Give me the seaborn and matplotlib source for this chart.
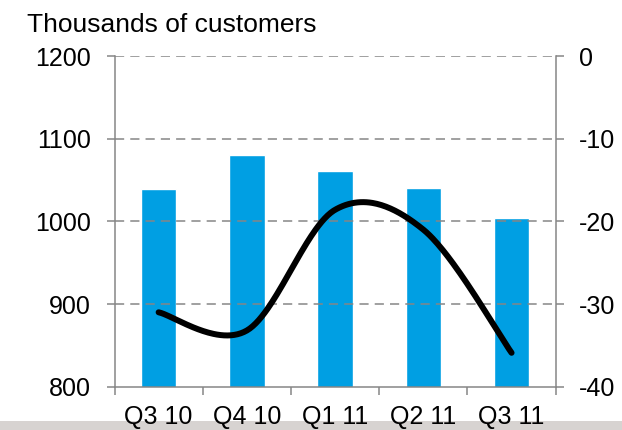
import numpy as np
import pandas as pd
import matplotlib
matplotlib.use("Agg")
import matplotlib.pyplot as plt
from matplotlib.patches import Rectangle
import seaborn as sns

# Data
quarters = ["Q3 10", "Q4 10", "Q1 11", "Q2 11", "Q3 11"]
customers = [1039, 1080, 1061, 1040, 1004]      # bars, left axis (thousands)
net_change = [-31.0, -33.2, -18.6, -21.0, -35.9]  # line, right axis

BLUE = "#009fe3"
GREY = "#868686"


def smooth_curve(ys, n=60):
    # Bezier smoothing through the points (like Excel's "smoothed line")
    p = np.column_stack([np.arange(len(ys), dtype=float), np.asarray(ys, float)])
    p = np.vstack([p[0], p, p[-1]])
    out = []
    t = np.linspace(0, 1, n)[:, None]
    for i in range(1, len(p) - 2):
        p0, p1, p2, p3 = p[i - 1], p[i], p[i + 1], p[i + 2]
        c1 = p1 + (p2 - p0) / 6
        c2 = p2 - (p3 - p1) / 6
        seg = ((1 - t) ** 3) * p1 + 3 * ((1 - t) ** 2) * t * c1 + 3 * (1 - t) * t ** 2 * c2 + t ** 3 * p2
        out.append(seg if i == 1 else seg[1:])
    return np.vstack(out)


sns.set_theme(style="white")
plt.rcParams["font.family"] = ["Liberation Sans", "DejaVu Sans"]
plt.rcParams["axes.unicode_minus"] = False
plt.rcParams["text.color"] = "black"
plt.rcParams["xtick.labelcolor"] = "black"
plt.rcParams["ytick.labelcolor"] = "black"

fig = plt.figure(figsize=(6.22, 4.30), dpi=100)
# grey band along the bottom edge, behind everything
fig.patches.append(Rectangle((0, 0), 1, 9.5 / 430, transform=fig.transFigure,
                             facecolor="#d7d3d1", edgecolor="none", zorder=-5))
ax = fig.add_axes([114.5 / 622, 1 - 386.7 / 430, (555.7 - 114.5) / 622, (386.7 - 56) / 430])
ax.set_facecolor("none")

df = pd.DataFrame({"quarter": quarters, "customers": customers})
sns.barplot(data=df, x="quarter", y="customers", color=BLUE, saturation=1,
            width=0.4, ax=ax, zorder=1)

ax.set_xlim(-0.5, len(quarters) - 0.5)
ax.set_ylim(800, 1200)
ax.set_yticks([800, 900, 1000, 1100, 1200])
ax.set_xlabel("")
ax.set_ylabel("")

# gridlines (dashed), drawn over the bars
for v in [900, 1000, 1100, 1200]:
    ax.axhline(v, color=GREY, lw=1.1, ls=(0, (6, 4)), zorder=3)

# x ticks at category boundaries, labels centred
ax.set_xticks(np.arange(-0.5, len(quarters)), labels=[""] * (len(quarters) + 1))
ax.set_xticks(np.arange(len(quarters)), labels=quarters, minor=True)
ax.tick_params(axis="x", which="major", direction="out", length=6, width=1.1,
               color=GREY, bottom=True)
ax.tick_params(axis="x", which="minor", length=0, pad=13, labelsize=18, bottom=True)
ax.tick_params(axis="y", direction="out", length=6, width=1.1, color=GREY,
               left=True, pad=11, labelsize=18)

for side in ["left", "bottom"]:
    ax.spines[side].set_color(GREY)
    ax.spines[side].set_linewidth(1.1)
ax.spines["top"].set_visible(False)
ax.spines["right"].set_visible(False)

ax2 = ax.twinx()
curve = smooth_curve(net_change)
cdf = pd.DataFrame({"x": curve[:, 0], "y": curve[:, 1]})
sns.lineplot(data=cdf, x="x", y="y", sort=False, color="black", lw=4.3, ax=ax2,
             solid_capstyle="round")
ax2.set_ylim(-40, 0)
ax2.set_yticks([-40, -30, -20, -10, 0])
ax2.set_xlim(-0.5, len(quarters) - 0.5)
ax2.set_xlabel("")
ax2.set_ylabel("")
ax2.tick_params(axis="y", direction="out", length=6, width=1.1, color=GREY,
                right=True, pad=11, labelsize=18)
ax2.spines["right"].set_color(GREY)
ax2.spines["right"].set_linewidth(1.1)
for side in ["top", "left", "bottom"]:
    ax2.spines[side].set_visible(False)

fig.text(26.7 / 622, 1 - 31.7 / 430, "Thousands of customers", fontsize=19,
         ha="left", va="baseline")

fig.savefig("out.png", dpi=100)
